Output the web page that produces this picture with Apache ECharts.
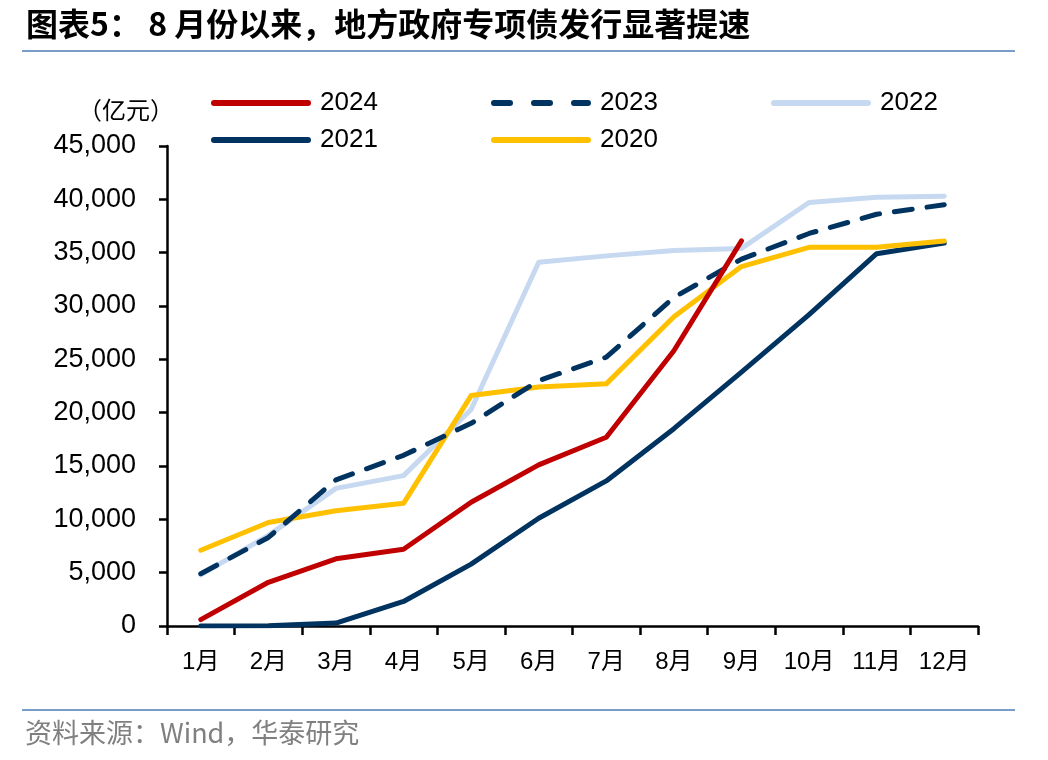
<!DOCTYPE html>
<html>
<head>
<meta charset="utf-8">
<script src="https://cdn.jsdelivr.net/npm/echarts@6/dist/echarts.min.js"></script>
<style>
html,body{margin:0;padding:0;background:#fff;}
#c{width:1048px;height:760px;}
</style>
</head>
<body>
<div id="c"></div>
<script>
var months = ['1月','2月','3月','4月','5月','6月','7月','8月','9月','10月','11月','12月'];
var yTicks = [0,5000,10000,15000,20000,25000,30000,35000,40000,45000];
var s2024 = [600,4100,6300,7200,11600,15100,17700,25800,36100,null,null,null];
var s2023 = [4900,8300,13700,16000,19000,23000,25200,30800,34400,36800,38600,39500];
var s2022 = [4800,8500,12900,14100,20300,34100,34700,35200,35400,39700,40200,40300];
var s2021 = [0,30,280,2300,5800,10100,13600,18500,23800,29200,34900,35900];
var s2020 = [7100,9700,10800,11500,21600,22400,22700,29000,33700,35500,35500,36100];

var chart = echarts.init(document.getElementById('c'));
var FONT = "'Liberation Sans','Noto Sans CJK SC',sans-serif";
var SOLID_ICON = 'path://M3,0H97A3,3 0 0 1 97,6H3A3,3 0 0 1 3,0Z';
var DASH_ICON = 'path://M3,0H19A3,3 0 0 1 19,6H3A3,3 0 0 1 3,0Z M43,0H59A3,3 0 0 1 59,6H43A3,3 0 0 1 43,0Z M83,0H97A3,3 0 0 1 97,6H83A3,3 0 0 1 83,0Z';
function ln(name, data, color, dashed, z){
  return {
    name: name, type: 'line', data: data, symbol: 'none', z: z,
    lineStyle: {color: color, width: 5, type: dashed ? [18,15] : 'solid', cap: 'round', join: 'round'},
    itemStyle: {color: color},
    emphasis: {disabled: true}, animation: false
  };
}
function lg(name, left, top, dashed){
  return {
    data: [{name: name, icon: dashed ? DASH_ICON : SOLID_ICON}],
    left: left, top: top, itemWidth: 100, itemHeight: 6,
    textStyle: {fontSize: 26, color: '#000', fontFamily: FONT, padding: [0,0,0,4]},
    selectedMode: false
  };
}
chart.setOption({
  animation: false,
  grid: {left: 167, right: 70, top: 146, bottom: 134},
  legend: [
    lg('2024', 206, 85), lg('2023', 486, 85, true), lg('2022', 766, 85),
    lg('2021', 206, 122), lg('2020', 486, 122)
  ],
  xAxis: {
    type: 'category', data: months, boundaryGap: true,
    axisLine: {lineStyle: {color: '#000', width: 2.5}},
    axisTick: {show: true, interval: 0, length: 9, lineStyle: {color: '#000', width: 2.5}},
    axisLabel: {fontSize: 24, color: '#000', fontFamily: FONT, margin: 24, interval: 0}
  },
  yAxis: {
    type: 'value', min: yTicks[0], max: yTicks[yTicks.length-1], interval: yTicks[1]-yTicks[0],
    splitLine: {show: false},
    axisLine: {show: true, lineStyle: {color: '#000', width: 2.5}},
    axisTick: {show: true, length: 8, lineStyle: {color: '#000', width: 2.5}},
    axisLabel: {fontSize: 27, color: '#000', fontFamily: FONT, margin: 31,
      formatter: function(v){ return v.toLocaleString('en-US'); }}
  },
  series: [
    ln('2024', s2024, '#C00000', false, 6),
    ln('2023', s2023, '#00335F', true, 5),
    ln('2022', s2022, '#C6D9F1', false, 2),
    ln('2021', s2021, '#00335F', false, 3),
    ln('2020', s2020, '#FFC000', false, 4)
  ],
  graphic: [
    {type: 'text', left: 26, top: 8, style: {text: '图表5： 8 月份以来，地方政府专项债发行显著提速', font: "bold 32px 'Noto Sans CJK SC',sans-serif", fill: '#000'}},
    {type: 'line', shape: {x1: 22, y1: 51, x2: 1015, y2: 51}, style: {stroke: '#7a9cc8', lineWidth: 2}},
    {type: 'text', left: 78, top: 98, style: {text: '（亿元）', font: "24px 'Noto Sans CJK SC',sans-serif", fill: '#000'}},
    {type: 'line', shape: {x1: 22, y1: 710, x2: 1015, y2: 710}, style: {stroke: '#7a9cc8', lineWidth: 2}},
    {type: 'text', left: 25, top: 719, style: {text: '资料来源：Wind，华泰研究', font: "27px 'Noto Sans CJK SC',sans-serif", fill: '#808080'}}
  ]
});
</script>
</body>
</html>
